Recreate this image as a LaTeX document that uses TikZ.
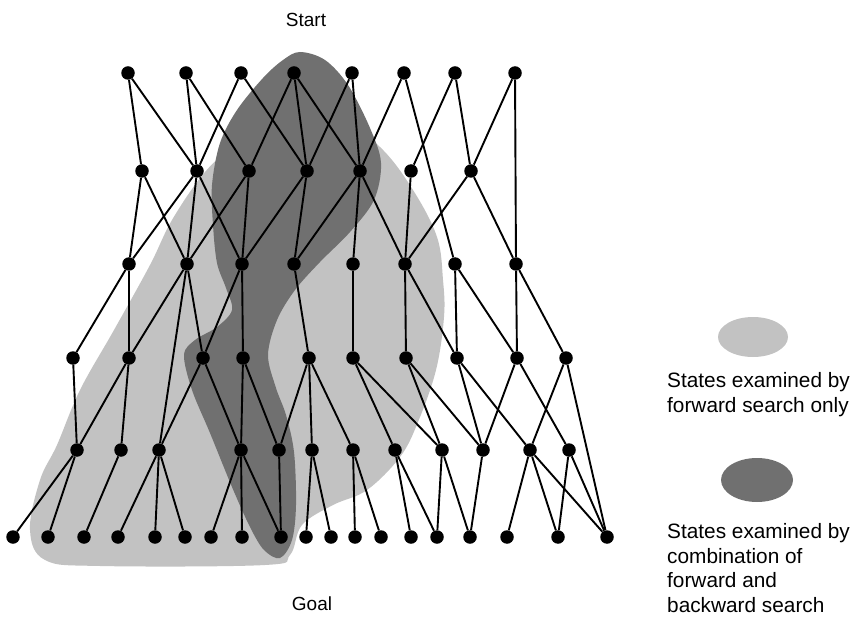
\documentclass[tikz,border=0pt]{standalone}
\usepackage{fontspec}
\setmainfont{Liberation Sans}
\usetikzlibrary{shapes.geometric}
\begin{document}
\begin{tikzpicture}[x=1pt,y=-1pt,
  dot/.style={circle,fill=black,inner sep=0pt,minimum size=13.5pt},
  edge/.style={line width=1.9pt},
  lbl/.style={font=\fontsize{19}{24.5}\selectfont,inner sep=0pt},
  keylbl/.style={font=\fontsize{20.8}{24.8}\selectfont,inner sep=0pt},
  lightreg/.style={fill=black!24},
  darkreg/.style={fill=black!56}]
\useasboundingbox (0,0) rectangle (853,617);
% regions
\fill[lightreg] plot[smooth cycle, tension=0.6] coordinates {
 (240,140) (205,172) (172,220) (150,265) (114,330) (80,390) (57,445) (40,480)
 (30,530) (45,560) (100,566) (265,565) (290,555) (302,525) (333,505) (367,490)
 (400,457) (418,422) (436,370) (444,317) (443,280) (437,237) (413,190) (380,147)
 (330,110) (280,110)};
\fill[darkreg] plot[smooth cycle, tension=0.55] coordinates {
 (300,52) (325,60) (348,85) (370,128) (381,163) (374,200) (350,232) (320,262)
 (295,290) (277,320) (268,355) (276,388) (286,415) (294,452) (296,505) (292,540)
 (280,558) (264,550) (250,527) (232,487) (210,433) (192,390) (184,355) (195,340)
 (217,327) (232,310) (226,288) (217,263) (213,225) (212,185) (220,143) (237,110)
 (263,78) (283,60)};
% nodes
\foreach \x in {128,186,241,294,352,404,455,515} \node[dot] (A\x) at (\x,73) {};
\foreach \x in {142,197,249,307,360,411,471} \node[dot] (B\x) at (\x,171) {};
\foreach \x in {129,187,242,294,353,405,455,516} \node[dot] (C\x) at (\x,264) {};
\foreach \x in {73,129,203,243,309,353,406,457,517,566} \node[dot] (D\x) at (\x,358) {};
\foreach \x in {77,121,159,241,279,312,353,395,442,483,530,569} \node[dot] (E\x) at (\x,450) {};
\foreach \x in {13,48,84,118,155,185,211,242,281,306,331,355,381,411,437,470,507,558,607} \node[dot] (F\x) at (\x,537) {};
% edges
\foreach \u/\v in {A128/B142, A128/B197, A186/B197, A186/B249, A241/B197, A241/B307,
 A294/B249, A294/B307, A294/B360, A352/B307, A352/B360, A404/B360, A404/C455,
 A455/B411, A455/B471, A515/B471, A515/C516,
 B142/C129, B142/C187, B197/C129, B197/C187, B197/C242, B249/C187, B249/C242,
 B307/C242, B307/C294, B360/C294, B360/C353, B360/C405, B411/C405, B471/C405, B471/C516,
 C129/D73, C129/D129, C187/D129, C187/D203, C187/E159, C242/D203, C242/D243,
 C294/D309, C353/D353, C405/D406, C405/D457, C455/D457, C455/D517, C516/D517, C516/D566,
 D73/E77, D129/E77, D129/E121, D203/E159, D203/E241, D243/E241, D243/E279,
 D309/E279, D309/E312, D309/E353, D353/E395, D353/E442, D406/E442, D406/E483,
 D457/E483, D457/E530, D517/E483, D517/E569, D566/E530, D566/F607,
 E77/F13, E77/F48, E121/F84, E159/F118, E159/F155, E159/F185, E241/F211, E241/F242,
 E241/F281, E279/F281, E312/F306, E312/F331, E353/F355, E353/F381, E395/F411,
 E395/F437, E442/F437, E442/F470, E483/F470, E530/F507, E530/F558, E530/F607,
 E569/F558, E569/F607}
 \draw[edge] (\u) -- (\v);
% labels
\node[lbl] (start) at (306,20) {Start};
\node[lbl] (goal) at (312,604) {Goal};
% legend
\node[ellipse,lightreg,minimum width=70pt,minimum height=40pt,inner sep=0pt] (keylight) at (753,337) {};
\node[ellipse,darkreg,minimum width=72pt,minimum height=44pt,inner sep=0pt] (keydark) at (757,480) {};
\node[keylbl,anchor=west,align=left] (txtlight) at (667,395) {States examined by\\forward search only};
\node[keylbl,anchor=west,align=left] (txtdark) at (667,568) {States examined by\\combination of\\forward and\\backward search};
\end{tikzpicture}
\end{document}
